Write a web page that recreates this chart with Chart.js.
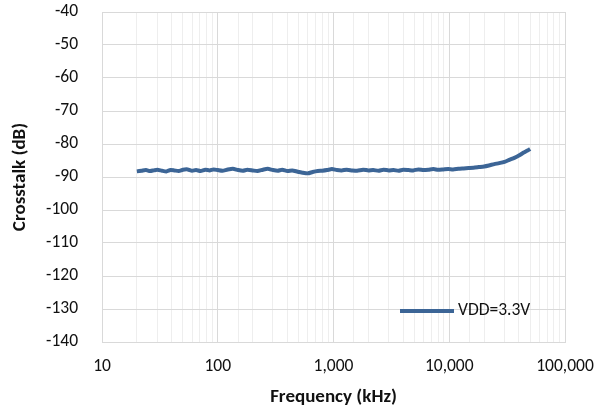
<!DOCTYPE html>
<html>
<head>
<meta charset="utf-8">
<script src="https://cdn.jsdelivr.net/npm/chart.js@4/dist/chart.umd.min.js"></script>
<style>
  html, body { margin: 0; padding: 0; background: #fff; }
  #wrap { width: 600px; height: 414px; }
</style>
</head>
<body>
<div id="wrap"><canvas id="myChart"></canvas></div>
<script>
// data
const seriesLabel = "VDD=3.3V";
const freqKHz = [20,22,24,26,28,30,33,36,39,42,46,50,55,60,65,71,78,85,92,100,
  110,120,135,150,165,180,200,220,245,270,300,330,360,400,440,490,540,600,660,730,
  800,880,970,1070,1180,1300,1450,1600,1800,2000,2200,2450,2700,3000,3300,3650,4000,
  4450,4900,5400,6000,6600,7300,8000,8900,9800,10800,12000,13300,14700,16200,18000,
  20000,22000,24500,27000,30000,33000,36500,40000,44000,47500,50000];
const crosstalkDb = [-88.3,-88.1,-87.9,-88.2,-88.0,-87.8,-88.1,-88.3,-87.9,-88.0,
  -88.2,-87.8,-87.7,-88.1,-87.9,-88.2,-87.8,-88.0,-87.7,-87.9,
  -88.1,-87.8,-87.5,-87.9,-88.1,-87.8,-88.0,-88.2,-87.8,-87.5,-87.9,-88.1,-87.8,-88.2,
  -88.0,-88.4,-88.7,-88.9,-88.5,-88.2,
  -88.1,-87.9,-87.6,-87.9,-88.0,-87.8,-88.0,-88.1,-87.8,-88.0,-87.9,-88.1,-87.8,-88.0,
  -87.9,-88.1,-87.8,-87.9,-88.0,-87.7,-87.9,-87.8,-87.6,-87.8,-87.7,-87.6,-87.7,-87.5,
  -87.4,-87.3,-87.2,-87.0,-86.8,-86.5,-86.1,-85.8,-85.4,-84.8,-84.2,-83.5,-82.6,-82.0,-81.5];
const xTicks = [10, 100, 1000, 10000, 100000];
const yMin = -140, yMax = -40, yStep = 10;

const lineColor = "#3c6596";
const textColor = "#111";
const fontFam = "Calibri, Carlito, Lato, 'Liberation Sans', sans-serif";

// legend drawn inside plot, lower right
const innerLegend = {
  id: "innerLegend",
  afterDraw(chart) {
    let ctx = chart.ctx, a = chart.chartArea;
    let y = chart.scales.y.getPixelForValue(-130) + 2;
    ctx.save();
    ctx.strokeStyle = lineColor;
    ctx.lineWidth = 4;
    ctx.beginPath();
    ctx.moveTo(a.right - 165, y);
    ctx.lineTo(a.right - 111, y);
    ctx.stroke();
    ctx.fillStyle = textColor;
    ctx.font = "17.5px " + fontFam;
    ctx.textBaseline = "middle";
    ctx.fillText(chart.data.datasets[0].label, a.right - 107, y);
    ctx.restore();
  }
};

var ctx = document.getElementById("myChart");
var chart = new Chart(ctx, {
  type: "line",
  data: {
    datasets: [{
      label: seriesLabel,
      data: freqKHz.map((f, i) => ({ x: f, y: crosstalkDb[i] })),
      borderColor: lineColor,
      backgroundColor: lineColor,
      borderWidth: 4,
      pointRadius: 0,
      tension: 0.2
    }]
  },
  plugins: [innerLegend],
  options: {
    responsive: true,
    maintainAspectRatio: false,
    animation: false,
    layout: { padding: { left: 0, right: 35, top: 12, bottom: 0 } },
    plugins: { legend: { display: false }, tooltip: { enabled: false } },
    scales: {
      x: {
        type: "logarithmic",
        min: 10,
        max: 100000,
        afterFit(s) { s.height = 72; s.paddingLeft = 0; s.paddingRight = 0; },
        grid: {
          drawTicks: false,
          color: c => (xTicks.includes(c.tick.value) ? "#d9d9d9" : "#eeeeee"),
          lineWidth: 1
        },
        border: { color: "#d9d9d9" },
        ticks: {
          autoSkip: false,
          maxRotation: 0,
          padding: 14,
          color: textColor,
          font: { size: 17.5, family: fontFam },
          callback: v => (xTicks.includes(v) ? v.toLocaleString("en-US") : "")
        },
        title: {
          display: true,
          text: "Frequency (kHz)",
          color: textColor,
          padding: { top: 4, bottom: 5 },
          font: { size: 19, weight: "bold", family: fontFam }
        }
      },
      y: {
        min: yMin,
        max: yMax,
        afterFit(s) { s.width = 102; s.paddingTop = 0; s.paddingBottom = 0; },
        grid: { drawTicks: false, color: "#d9d9d9" },
        border: { color: "#d9d9d9" },
        ticks: {
          stepSize: yStep,
          padding: 24,
          color: textColor,
          font: { size: 17.5, family: fontFam }
        },
        title: {
          display: true,
          text: "Crosstalk (dB)",
          color: textColor,
          padding: { top: 9, bottom: 0 },
          font: { size: 19, weight: "bold", family: fontFam }
        }
      }
    }
  }
});
</script>
</body>
</html>
